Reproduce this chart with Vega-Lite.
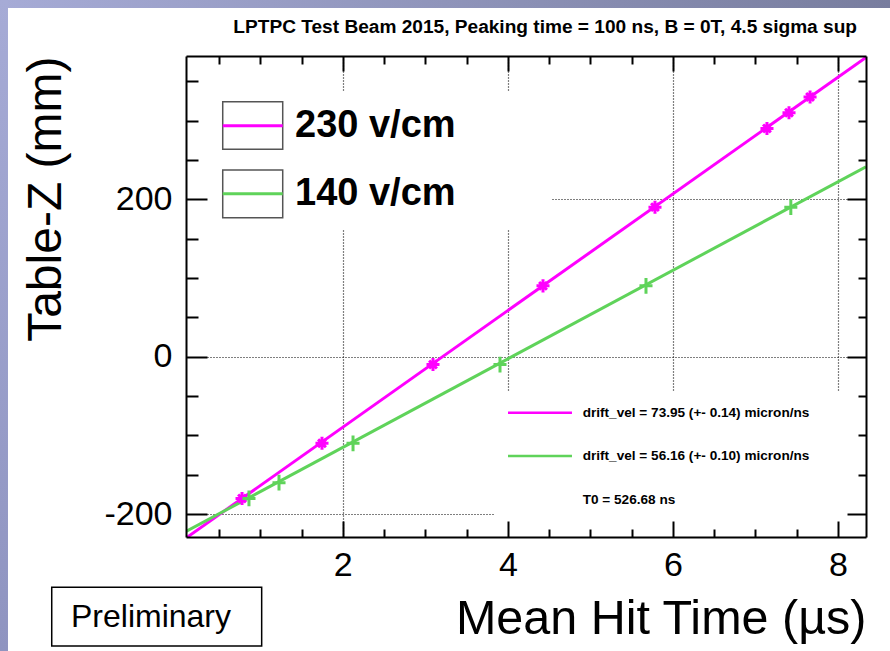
{
  "$schema": "https://vega.github.io/schema/vega-lite/v6.json",
  "width": 680,
  "height": 481,
  "autosize": "none",
  "padding": {"left": 186, "top": 56, "right": 24, "bottom": 114},
  "background": "white",
  "config": {"view": {"stroke": null}, "font": "Liberation Sans"},
  "data": {"values": [{"note": "annotation"}]},
  "datasets": {
    "points": [
      {"series": "230 v/cm", "time": 0.779, "z": -180},
      {"series": "230 v/cm", "time": 1.748, "z": -110},
      {"series": "230 v/cm", "time": 3.093, "z": -10},
      {"series": "230 v/cm", "time": 4.426, "z": 90},
      {"series": "230 v/cm", "time": 5.783, "z": 190},
      {"series": "230 v/cm", "time": 7.140, "z": 290},
      {"series": "230 v/cm", "time": 7.407, "z": 310},
      {"series": "230 v/cm", "time": 7.662, "z": 330},
      {"series": "140 v/cm", "time": 0.863, "z": -180},
      {"series": "140 v/cm", "time": 1.227, "z": -160},
      {"series": "140 v/cm", "time": 2.124, "z": -110},
      {"series": "140 v/cm", "time": 3.905, "z": -10},
      {"series": "140 v/cm", "time": 5.674, "z": 90},
      {"series": "140 v/cm", "time": 7.429, "z": 190}
    ],
    "fits": [
      {"series": "230 v/cm", "time": 0.1, "z": -230.3},
      {"series": "230 v/cm", "time": 8.34, "z": 380.2},
      {"series": "140 v/cm", "time": 0.1, "z": -222},
      {"series": "140 v/cm", "time": 8.34, "z": 241.3}
    ]
  },
  "resolve": {"axis": {"x": "independent", "y": "independent"}},
  "layer": [
    {
      "mark": {"type": "rect", "fill": "white"},
      "encoding": {
        "x": {"datum": 3.844, "type": "quantitative",
          "scale": {"domain": [0.1, 8.34], "nice": false, "zero": false},
          "axis": {"orient": "bottom", "values": [2, 4, 6, 8], "labelExpr": "'' + datum.value", "grid": true, "gridColor": "black", "gridDash": [1, 2], "gridWidth": 1.2, "gridOpacity": 1,
            "ticks": false, "domain": false, "labels": true, "labelFont": "Liberation Sans", "labelFontSize": 34, "labelColor": "black", "labelPadding": 11, "labelFlush": false, "labelOverlap": false,
            "title": "Mean Hit Time (µs)", "titleFont": "Liberation Sans", "titleFontSize": 48.5, "titleFontWeight": "normal", "titleColor": "black", "titleAnchor": "end", "titlePadding": 13, "zindex": 0}},
        "x2": {"datum": 8.33},
        "y": {"datum": -44.8, "type": "quantitative",
          "scale": {"domain": [-229, 382], "nice": false, "zero": false},
          "axis": {"orient": "left", "values": [-200, 0, 200], "labelExpr": "'' + datum.value", "grid": true, "gridColor": "black", "gridDash": [1, 2], "gridWidth": 1.2, "gridOpacity": 1,
            "ticks": false, "domain": false, "labels": true, "labelFont": "Liberation Sans", "labelFontSize": 34, "labelColor": "black", "labelPadding": 14, "labelFlush": false, "labelOverlap": false,
            "title": "Table-Z (mm)", "titleFont": "Liberation Sans", "titleFontSize": 48, "titleFontWeight": "normal", "titleColor": "black", "titleAnchor": "end", "titlePadding": 33, "zindex": 0}},
        "y2": {"datum": -228.5}
      }
    },
    {
      "mark": {"type": "rect", "fill": "white"},
      "encoding": {
        "x": {"datum": 0.1, "type": "quantitative",
          "axis": {"orient": "top", "values": [2, 4, 6, 8], "grid": false, "ticks": true, "tickSize": -15, "tickWidth": 2, "tickColor": "black", "labels": false, "domain": true, "domainColor": "black", "domainWidth": 2, "title": null, "zindex": 1}},
        "x2": {"datum": 4.523},
        "y": {"datum": 336.3, "type": "quantitative",
          "axis": {"orient": "right", "values": [-200, 0, 200], "grid": false, "ticks": true, "tickSize": -19, "tickWidth": 2, "tickColor": "black", "labels": false, "domain": true, "domainColor": "black", "domainWidth": 2, "title": null, "zindex": 1}},
        "y2": {"datum": 161.0}
      }
    },
    {
      "data": {"name": "fits"},
      "mark": {"type": "line", "strokeWidth": 3, "clip": true},
      "encoding": {
        "x": {"field": "time", "type": "quantitative",
          "axis": {"orient": "bottom", "values": [2, 4, 6, 8], "grid": false, "ticks": true, "tickSize": -16, "tickWidth": 2, "tickColor": "black", "labels": false, "domain": true, "domainColor": "black", "domainWidth": 2, "title": null, "zindex": 1}},
        "y": {"field": "z", "type": "quantitative",
          "axis": {"orient": "left", "values": [-200, 0, 200], "grid": false, "ticks": true, "tickSize": -21, "tickWidth": 2, "tickColor": "black", "labels": false, "domain": true, "domainColor": "black", "domainWidth": 2, "title": null, "zindex": 1}},
        "color": {"field": "series", "type": "nominal", "scale": {"domain": ["230 v/cm", "140 v/cm"], "range": ["#ff00ff", "#5fd35a"]}, "legend": null}
      }
    },
    {
      "data": {"name": "points"},
      "mark": {"type": "point", "filled": false, "strokeWidth": 3, "size": 170, "opacity": 1},
      "encoding": {
        "x": {"field": "time", "type": "quantitative",
          "axis": {"orient": "bottom", "values": [0.5, 1, 1.5, 2.5, 3, 3.5, 4.5, 5, 5.5, 6.5, 7, 7.5], "grid": false, "ticks": true, "tickSize": -8, "tickWidth": 2, "tickColor": "black", "labels": false, "domain": false, "title": null, "zindex": 1}},
        "y": {"field": "z", "type": "quantitative",
          "axis": {"orient": "left", "values": [-150, -100, -50, 50, 100, 150, 250, 300, 350], "grid": false, "ticks": true, "tickSize": -12, "tickWidth": 2, "tickColor": "black", "labels": false, "domain": false, "title": null, "zindex": 1}},
        "color": {"field": "series", "type": "nominal", "legend": null},
        "shape": {"field": "series", "type": "nominal", "scale": {"domain": ["230 v/cm", "140 v/cm"], "range": ["M-1,0L1,0M0,-1L0,1M-0.6,-0.6L0.6,0.6M-0.6,0.6L0.6,-0.6", "M-1,0L1,0M0,-1.2L0,1.2"]}, "legend": null}
      }
    },
    {
      "mark": {"type": "rect", "fill": "white", "stroke": "#555555", "strokeWidth": 1.5},
      "encoding": {
        "x": {"datum": 0.545, "type": "quantitative",
          "axis": {"orient": "top", "values": [0.5, 1, 1.5, 2.5, 3, 3.5, 4.5, 5, 5.5, 6.5, 7, 7.5], "grid": false, "ticks": true, "tickSize": -8, "tickWidth": 2, "tickColor": "black", "labels": false, "domain": false, "title": null, "zindex": 1}},
        "x2": {"datum": 1.272},
        "y": {"datum": 323.9, "type": "quantitative",
          "axis": {"orient": "right", "values": [-150, -100, -50, 50, 100, 150, 250, 300, 350], "grid": false, "ticks": true, "tickSize": -8, "tickWidth": 2, "tickColor": "black", "labels": false, "domain": false, "title": null, "zindex": 1}},
        "y2": {"datum": 263.5}
      }
    },
    {
      "mark": {"type": "rect", "fill": "white", "stroke": "#555555", "strokeWidth": 1.5},
      "encoding": {
        "x": {"datum": 0.545, "type": "quantitative", "axis": null},
        "x2": {"datum": 1.272},
        "y": {"datum": 237.2, "type": "quantitative", "axis": null},
        "y2": {"datum": 176.6}
      }
    },
    {
      "mark": {"type": "rule", "color": "#ff00ff", "strokeWidth": 3},
      "encoding": {
        "x": {"datum": 0.545, "type": "quantitative", "axis": null},
        "x2": {"datum": 1.272},
        "y": {"datum": 293.5, "type": "quantitative", "axis": null}
      }
    },
    {
      "mark": {"type": "rule", "color": "#5fd35a", "strokeWidth": 3},
      "encoding": {
        "x": {"datum": 0.545, "type": "quantitative", "axis": null},
        "x2": {"datum": 1.272},
        "y": {"datum": 207.1, "type": "quantitative", "axis": null}
      }
    },
    {
      "mark": {"type": "text", "align": "left", "baseline": "middle", "font": "Liberation Sans", "fontWeight": "bold", "fontSize": 38, "color": "black"},
      "encoding": {
        "x": {"datum": 1.421, "type": "quantitative", "axis": null},
        "y": {"datum": 293.5, "type": "quantitative", "axis": null},
        "text": {"value": "230 v/cm"}
      }
    },
    {
      "mark": {"type": "text", "align": "left", "baseline": "middle", "font": "Liberation Sans", "fontWeight": "bold", "fontSize": 38, "color": "black"},
      "encoding": {
        "x": {"datum": 1.421, "type": "quantitative", "axis": null},
        "y": {"datum": 207.1, "type": "quantitative", "axis": null},
        "text": {"value": "140 v/cm"}
      }
    },
    {
      "mark": {"type": "rule", "color": "#ff00ff", "strokeWidth": 2.5},
      "encoding": {
        "x": {"datum": 4.002, "type": "quantitative", "axis": null},
        "x2": {"datum": 4.777},
        "y": {"datum": -71.1, "type": "quantitative", "axis": null}
      }
    },
    {
      "mark": {"type": "rule", "color": "#5fd35a", "strokeWidth": 2.5},
      "encoding": {
        "x": {"datum": 4.002, "type": "quantitative", "axis": null},
        "x2": {"datum": 4.777},
        "y": {"datum": -126.1, "type": "quantitative", "axis": null}
      }
    },
    {
      "mark": {"type": "text", "align": "left", "baseline": "middle", "font": "Liberation Sans", "fontWeight": "bold", "fontSize": 13.6, "color": "black"},
      "encoding": {
        "x": {"datum": 4.907, "type": "quantitative", "axis": null},
        "y": {"datum": -71.1, "type": "quantitative", "axis": null},
        "text": {"value": "drift_vel = 73.95 (+- 0.14) micron/ns"}
      }
    },
    {
      "mark": {"type": "text", "align": "left", "baseline": "middle", "font": "Liberation Sans", "fontWeight": "bold", "fontSize": 13.6, "color": "black"},
      "encoding": {
        "x": {"datum": 4.907, "type": "quantitative", "axis": null},
        "y": {"datum": -126.1, "type": "quantitative", "axis": null},
        "text": {"value": "drift_vel = 56.16 (+- 0.10) micron/ns"}
      }
    },
    {
      "mark": {"type": "text", "align": "left", "baseline": "middle", "font": "Liberation Sans", "fontWeight": "bold", "fontSize": 13.6, "color": "black"},
      "encoding": {
        "x": {"datum": 4.907, "type": "quantitative", "axis": null},
        "y": {"datum": -182.0, "type": "quantitative", "axis": null},
        "text": {"value": "T0 = 526.68 ns"}
      }
    },
    {
      "mark": {"type": "text", "align": "right", "baseline": "alphabetic", "font": "Liberation Sans", "fontWeight": "bold", "fontSize": 19.1, "color": "black"},
      "encoding": {
        "x": {"datum": 8.231, "type": "quantitative", "axis": null},
        "y": {"datum": 411.2, "type": "quantitative", "axis": null},
        "text": {"value": "LPTPC Test Beam 2015, Peaking time = 100 ns, B = 0T, 4.5 sigma sup"}
      }
    },
    {
      "mark": {"type": "rect", "fill": "white", "stroke": "black", "strokeWidth": 1.5},
      "encoding": {
        "x": {"datum": -1.527, "type": "quantitative", "axis": null},
        "x2": {"datum": 1.017},
        "y": {"datum": -292.9, "type": "quantitative", "axis": null},
        "y2": {"datum": -367.5}
      }
    },
    {
      "mark": {"type": "text", "align": "center", "baseline": "alphabetic", "font": "Liberation Sans", "fontSize": 32, "color": "black"},
      "encoding": {
        "x": {"datum": -0.324, "type": "quantitative", "axis": null},
        "y": {"datum": -342.9, "type": "quantitative", "axis": null},
        "text": {"value": "Preliminary"}
      }
    },
    {
      "mark": {"type": "rect", "fill": {"gradient": "linear", "x1": 0, "y1": 0, "x2": 1, "y2": 0, "stops": [{"offset": 0, "color": "#a6abd6"}, {"offset": 1, "color": "#787d9e"}]}},
      "encoding": {
        "x": {"datum": -2.154, "type": "quantitative", "axis": null},
        "x2": {"datum": 8.631},
        "y": {"datum": 453.1, "type": "quantitative", "axis": null},
        "y2": {"datum": 443.0}
      }
    },
    {
      "mark": {"type": "rect", "fill": {"gradient": "linear", "x1": 0, "y1": 0, "x2": 0, "y2": 1, "stops": [{"offset": 0, "color": "#a6abd6"}, {"offset": 1, "color": "#8f94c0"}]}},
      "encoding": {
        "x": {"datum": -2.154, "type": "quantitative", "axis": null},
        "x2": {"datum": -2.057},
        "y": {"datum": 453.1, "type": "quantitative", "axis": null},
        "y2": {"datum": -373.8}
      }
    }
  ]
}
